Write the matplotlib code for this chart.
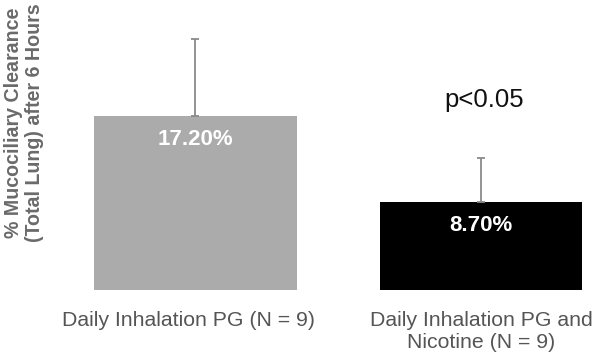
import matplotlib
matplotlib.use("Agg")
import matplotlib.pyplot as plt
import matplotlib.transforms as mtransforms

plt.rcParams['font.family'] = ['Liberation Sans', 'DejaVu Sans']

# data
groups = ["Daily Inhalation PG (N = 9)", "Daily Inhalation PG and\nNicotine (N = 9)"]
values = [17.2, 8.7]
errors_up = [7.65, 4.37]
value_labels = ["17.20%", "8.70%"]
bar_colors = ["#ababab", "#000000"]

fig = plt.figure(figsize=(6, 3.59), dpi=100)
ax = fig.add_axes([0.1, 0.1922, 0.9, 0.8078])

x = [0, 1]
ax.bar(x, values, width=0.711, color=bar_colors)
ax.errorbar(x, values, yerr=[[0, 0], errors_up], fmt='none',
            ecolor='#8a8a8a', elinewidth=1.3, capsize=3, capthick=1.3)

for xi, v, lab in zip(x, values, value_labels):
    ax.text(xi, v - 2.3, lab, ha='center', va='center', color='white',
            fontsize=16, fontweight='bold')

ax.text(1.01, 18.8, "p<0.05", ha='center', va='center', fontsize=18.5, color='#111111')

ax.set_xlim(-0.4746, 1.4168)
ax.set_ylim(0, 28.7)
ax.set_xticks(x)
ax.set_xticklabels(groups, fontsize=15.3, color='#555555', linespacing=1.2)
ax.tick_params(axis='x', length=0, pad=15)
# first label sits a little left of its bar in the original
lbl = ax.get_xticklabels()[0]
lbl.set_transform(lbl.get_transform() + mtransforms.ScaledTranslation(-5 / 72, 0, fig.dpi_scale_trans))
ax.set_yticks([])
for s in ax.spines.values():
    s.set_visible(False)

fig.text(0.04, 0.659, "% Mucociliary Clearance\n(Total Lung) after 6 Hours",
         rotation=90, ha='center', va='center', fontsize=14.1,
         fontweight='bold', color='#6a6a6a', linespacing=1.1)

fig.savefig("out.png", dpi=100)
